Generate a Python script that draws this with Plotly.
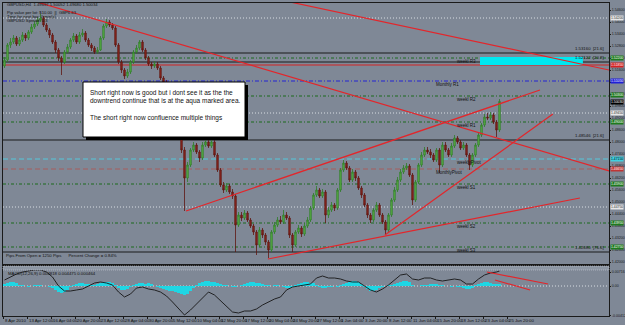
import plotly.graph_objects as go

# ---------------- data ----------------
first_open = 1.5180
close = [1.5210,1.5285,1.5300,1.5320,1.5290,1.5310,1.5335,1.5320,1.5350,1.5375,
         1.5390,1.5410,1.5420,1.5385,1.5360,1.5335,1.5300,1.5260,1.5220,1.5200,
         1.5250,1.5275,1.5310,1.5330,1.5300,1.5335,1.5345,1.5310,1.5285,1.5270,
         1.5250,1.5260,1.5320,1.5380,1.5400,1.5385,1.5370,1.5285,1.5200,1.5160,
         1.5130,1.5150,1.5200,1.5250,1.5270,1.5300,1.5260,1.5220,1.5190,1.5180,
         1.5190,1.5170,1.5120,1.5100,1.5070,1.5035,1.4985,1.4935,1.4860,1.4760,
         1.4620,1.4685,1.4760,1.4785,1.4750,1.4720,1.4785,1.4800,1.4780,1.4800,
         1.4735,1.4660,1.4585,1.4560,1.4580,1.4550,1.4530,1.4385,1.4435,1.4420,
         1.4445,1.4410,1.4380,1.4350,1.4285,1.4360,1.4335,1.4300,1.4260,1.4350,
         1.4385,1.4410,1.4400,1.4435,1.4420,1.4335,1.4285,1.4350,1.4370,1.4340,
         1.4380,1.4410,1.4470,1.4535,1.4560,1.4530,1.4550,1.4435,1.4460,1.4485,
         1.4470,1.4560,1.4660,1.4695,1.4670,1.4610,1.4650,1.4620,1.4570,1.4535,
         1.4485,1.4435,1.4410,1.4460,1.4485,1.4435,1.4400,1.4360,1.4435,1.4510,
         1.4560,1.4610,1.4650,1.4670,1.4680,1.4635,1.4510,1.4600,1.4685,1.4735,
         1.4760,1.4750,1.4735,1.4710,1.4760,1.4685,1.4785,1.4760,1.4735,1.4780,
         1.4820,1.4800,1.4770,1.4785,1.4735,1.4685,1.4735,1.4785,1.4835,1.4885,
         1.4925,1.4920,1.4935,1.4900,1.4860,1.5003]
high = [1.5225,1.5295,1.5320,1.5335,1.5330,1.5325,1.5350,1.5345,1.5360,1.5390,
        1.5405,1.5425,1.5440,1.5430,1.5395,1.5370,1.5345,1.5310,1.5270,1.5230,
        1.5260,1.5290,1.5320,1.5345,1.5340,1.5350,1.5365,1.5355,1.5320,1.5295,
        1.5280,1.5275,1.5330,1.5390,1.5415,1.5410,1.5395,1.5380,1.5295,1.5210,
        1.5170,1.5165,1.5210,1.5260,1.5285,1.5310,1.5310,1.5270,1.5230,1.5200,
        1.5205,1.5200,1.5180,1.5130,1.5110,1.5080,1.5045,1.4995,1.4945,1.4870,
        1.4775,1.4700,1.4770,1.4800,1.4795,1.4760,1.4800,1.4820,1.4815,1.4815,
        1.4810,1.4745,1.4670,1.4600,1.4595,1.4590,1.4565,1.4540,1.4450,1.4450,
        1.4460,1.4455,1.4420,1.4390,1.4360,1.4375,1.4370,1.4345,1.4310,1.4360,
        1.4400,1.4425,1.4430,1.4460,1.4450,1.4430,1.4345,1.4360,1.4385,1.4380,
        1.4395,1.4425,1.4480,1.4545,1.4580,1.4570,1.4565,1.4560,1.4475,1.4500,
        1.4495,1.4570,1.4670,1.4710,1.4705,1.4680,1.4665,1.4660,1.4630,1.4580,
        1.4545,1.4495,1.4445,1.4470,1.4500,1.4495,1.4445,1.4410,1.4445,1.4520,
        1.4575,1.4625,1.4665,1.4685,1.4695,1.4690,1.4645,1.4610,1.4695,1.4750,
        1.4775,1.4775,1.4765,1.4745,1.4770,1.4770,1.4800,1.4800,1.4770,1.4795,
        1.4835,1.4830,1.4810,1.4800,1.4795,1.4745,1.4745,1.4795,1.4845,1.4895,
        1.4940,1.4945,1.4950,1.4945,1.4910,1.5015]
low = [1.5170,1.5200,1.5270,1.5290,1.5280,1.5280,1.5300,1.5305,1.5310,1.5340,
       1.5365,1.5380,1.5400,1.5375,1.5350,1.5320,1.5290,1.5245,1.5205,1.5135,
       1.5190,1.5240,1.5265,1.5300,1.5290,1.5290,1.5325,1.5300,1.5275,1.5255,
       1.5240,1.5240,1.5255,1.5310,1.5370,1.5375,1.5360,1.5275,1.5190,1.5145,
       1.5115,1.5120,1.5140,1.5190,1.5240,1.5260,1.5250,1.5210,1.5180,1.5165,
       1.5170,1.5160,1.5110,1.5090,1.5060,1.5025,1.4975,1.4925,1.4850,1.4745,
       1.4455,1.4600,1.4675,1.4750,1.4740,1.4700,1.4710,1.4775,1.4770,1.4770,
       1.4725,1.4650,1.4575,1.4545,1.4550,1.4540,1.4515,1.4250,1.4375,1.4405,
       1.4410,1.4400,1.4370,1.4335,1.4235,1.4275,1.4320,1.4285,1.4220,1.4250,
       1.4340,1.4375,1.4390,1.4390,1.4410,1.4320,1.4250,1.4275,1.4340,1.4325,
       1.4330,1.4370,1.4400,1.4460,1.4525,1.4520,1.4520,1.4395,1.4420,1.4450,
       1.4455,1.4460,1.4550,1.4650,1.4660,1.4600,1.4600,1.4605,1.4560,1.4520,
       1.4475,1.4420,1.4395,1.4400,1.4450,1.4425,1.4390,1.4335,1.4350,1.4425,
       1.4500,1.4550,1.4600,1.4640,1.4660,1.4625,1.4485,1.4500,1.4590,1.4675,
       1.4725,1.4740,1.4720,1.4700,1.4700,1.4645,1.4675,1.4750,1.4725,1.4725,
       1.4770,1.4790,1.4760,1.4760,1.4725,1.4660,1.4675,1.4725,1.4775,1.4825,
       1.4875,1.4910,1.4910,1.4890,1.4825,1.4850]

osma = [0.0010,0.0015,0.0020,0.0020,0.0015,
        0.0005,0.0005,0.0,-0.0005,0.0,0.0005,0.0005,0.0005,0.0,0.0,-0.0005,
        -0.0010,-0.0020,-0.0030,-0.0035,-0.0030,-0.0020,
        -0.0005,0.0005,0.0010,0.0015,0.0015,0.0010,0.0010,0.0005,0.0005,0.0010,
        0.0015,0.0020,0.0020,0.0020,0.0015,
        0.0005,-0.0010,-0.0020,-0.0020,-0.0015,
        -0.0005,0.0005,0.0010,0.0015,0.0015,
        0.0010,0.0015,0.0010,0.0,-0.0005,
        -0.0010,-0.0015,-0.0020,-0.0025,-0.0025,-0.0030,-0.0035,-0.0040,-0.0045,-0.0040,
        -0.0025,
        -0.0010,0.0005,0.0015,0.0020,0.0025,0.0025,0.0020,0.0020,0.0015,0.0010,0.0005,0.0005,0.0,
        -0.0005,-0.0005,0.0,
        0.0005,0.0010,0.0015,0.0020,0.0020,0.0015,0.0015,0.0010,
        0.0005,0.0005,0.0,0.0005,0.0005,0.0,-0.0005,-0.0010,
        -0.0010,-0.0005,0.0005,0.0010,0.0015,0.0020,0.0020,0.0015,0.0015,
        0.0005,-0.0005,-0.0010,
        -0.0010,-0.0005,-0.0005,0.0,-0.0005,0.0005,0.0010,
        0.0015,0.0020,0.0025,0.0025,0.0020,0.0010,
        -0.0005,-0.0015,-0.0025,-0.0025,-0.0020,
        -0.0010,-0.0005,0.0,0.0005,0.0005,
        0.0010,0.0015,0.0020,0.0025,0.0025,0.0020,
        0.0005,0.0,0.0,0.0005,0.0005,0.0005,
        0.0010,0.0010,0.0010,0.0005,0.0005,
        0.0,0.0,-0.0005,0.0,-0.0005,-0.0005,-0.0010,
        -0.0015,-0.0015,-0.0010,
        0.0005,0.0010,0.0015,0.0020,0.0020,
        0.0015,0.0010,0.0010,0.0010]

macd_line = [0.0030,0.0045,0.0060,0.0070,0.0075,0.0080,0.0080,0.0070,0.0045,0.0,
             -0.0025,-0.0025,-0.0020,-0.0015,0.0,0.0015,0.0020,0.0015,0.0005,-0.0030,
             -0.0055,-0.0040,-0.0010,-0.0005,-0.0015,-0.0020,-0.0030,-0.0050,-0.0080,-0.0115,
             -0.0145,-0.0120,-0.0090,-0.0055,-0.0030,-0.0045,-0.0075,-0.0105,-0.0130,-0.0135,
             -0.0125,-0.0125,-0.0115,-0.0095,-0.0080,-0.0065,-0.0055,-0.0020,-0.0005,0.0,
             0.0005,0.0010,0.0040,0.0050,0.0040,0.0040,0.0035,0.0025,0.0020,0.0020,
             0.0,-0.0020,-0.0030,-0.0015,0.0005,0.0030,0.0055,0.0060,0.0035,0.0030,
             0.0040,0.0040,0.0030,0.0025,0.0030,0.0035,0.0030,0.0010,0.0010,0.0035,
             0.0055,0.0065,0.0070,0.0075]

time_labels = ["8 Apr 2010", "13 Apr 12:00", "16 Apr 04:00", "20 Apr 20:00", "23 Apr 12:00",
               "28 Apr 04:00", "30 Apr 20:00", "5 May 12:00", "10 May 04:00", "12 May 20:00",
               "17 May 12:00", "20 May 04:00", "24 May 20:00", "27 May 12:00", "1 Jun 04:00",
               "3 Jun 20:00", "8 Jun 12:00", "11 Jun 04:00", "15 Jun 20:00", "18 Jun 12:00",
               "23 Jun 04:00", "25 Jun 20:00"]
bars_per_label = 8

# horizontal levels: price, colour, dash, label
levels = [
    (1.5420, "#d9dde3", "1px,2px", ""),
    (1.5245, "#1a1a1a", "solid", ""),
    (1.5220, "#1d6b1d", "3px,2px,1px,2px", "weekl R3"),
    (1.5200, "#1a1a1a", "solid", ""),
    (1.5185, "#d42222", "solid", ""),
    (1.5105, "#2424d4", "4px,2px,1px,2px", "Monthly R1"),
    (1.5030, "#1d6b1d", "3px,2px,1px,2px", "weekl R2"),
    (1.4945, "#d9dde3", "1px,2px", ""),
    (1.4900, "#1d6b1d", "3px,2px,1px,2px", "weekl R1"),
    (1.4810, "#1a1a1a", "solid", ""),
    (1.4715, "#55c8dc", "5px,3px", "weeklyPivot"),
    (1.4665, "#a85c5c", "5px,3px", "MonthlyPivot"),
    (1.4590, "#1d6b1d", "3px,2px,1px,2px", "weekl S1"),
    (1.4475, "#d9dde3", "1px,2px", ""),
    (1.4395, "#1d6b1d", "3px,2px,1px,2px", "weekl S2"),
    (1.4275, "#1d6b1d", "3px,2px,1px,2px", "weekl S3"),
    (1.4250, "#1a1a1a", "solid", ""),
]
line_price_notes = [(1.5245, "1.53160  [21.6]"), (1.5200, "1.52122  [20.8]"),
                    (1.4810, "1.48546  [21.6]"), (1.4250, "1.42680  [76.6]")]
# price, background, text colour, vertical nudge (px)
axis_tags = [(1.5420, "#e6e6e6", "#333", 0), (1.5220, "#1f7a1f", "#fff", 0), (1.5185, "#d42222", "#fff", 0),
             (1.5105, "#2020d8", "#fff", 0), (1.5030, "#1f7a1f", "#fff", 1), (1.5003, "#000000", "#fff", -1),
             (1.4945, "#e6e6e6", "#333", 0), (1.4900, "#1f7a1f", "#fff", 0), (1.4715, "#40d0e0", "#000", 0),
             (1.4665, "#c03535", "#fff", 0), (1.4590, "#1f7a1f", "#fff", 0), (1.4475, "#e6e6e6", "#333", 0),
             (1.4395, "#1f7a1f", "#fff", 0), (1.4275, "#1f7a1f", "#fff", 0)]

# trend lines drawn on the chart: (bar0, price0, bar1, price1)
trendlines = [(10.8, 1.5500, 201.5, 1.4655),
              (95.2, 1.5500, 201.5, 1.5160),
              (60.5, 1.4455, 178.5, 1.5060),
              (126.8, 1.4335, 182.8, 1.4940),
              (87.8, 1.4215, 191.8, 1.4520)]
ind_trendlines = [(160.8, 0.0070, 181.2, 0.0010), (163.5, 0.0030, 175.2, -0.0020)]
aqua_zone = (158.5, 192.8, 1.5185, 1.5225)

# ---------------- figure ----------------
BG = "#7f8896"
FRAME = "#1a1a1a"
FONT = "Liberation Sans"
n = len(close)
idx = list(range(n))
opens = [first_open] + close[:-1]
macd_idx = list(range(0, n - 1, 2)) + [n - 1]

def px(x):   # pixel -> paper x
    return (x - 3) / 606.0

def py(y):   # pixel -> paper y
    return (316 - y) / 313.0

fig = go.Figure()
fig.add_trace(go.Candlestick(
    x=idx, open=opens, high=high, low=low, close=close, xaxis="x", yaxis="y",
    increasing=dict(line=dict(color="#2f7d28", width=0.8), fillcolor="#63b84a"),
    decreasing=dict(line=dict(color="#5e1712", width=0.8), fillcolor="#92281f"),
    whiskerwidth=0, hoverinfo="skip", showlegend=False))
fig.add_trace(go.Bar(x=idx, y=osma, xaxis="x2", yaxis="y2", width=0.95,
                     marker=dict(color="#1fd6e4", line=dict(width=0)), showlegend=False))
fig.add_trace(go.Scatter(x=macd_idx, y=macd_line, xaxis="x2", yaxis="y2", mode="lines",
                         line=dict(color="#161616", width=0.9), showlegend=False))

shapes = []
annotations = []
for price, col, dash, lab in levels:
    shapes.append(dict(type="line", xref="paper", yref="y", x0=0, x1=1, y0=price, y1=price,
                       line=dict(color=col, width=1, dash=dash), layer="below"))
    if lab:
        xi = 143 if lab.startswith("Month") else 150
        annotations.append(dict(x=xi, y=price, xref="x", yref="y", text=lab, showarrow=False,
                                xanchor="left", yanchor="top", yshift=1,
                                font=dict(size=4.5, color="#111", family=FONT)))
for price, txt in line_price_notes:
    annotations.append(dict(x=px(606), y=price, xref="paper", yref="y", text=txt, showarrow=False,
                            xanchor="right", yanchor="bottom", font=dict(size=4.3, color="#111", family=FONT)))

x0, x1, yb, yt = aqua_zone
shapes.append(dict(type="rect", xref="x", yref="y", x0=x0, x1=x1, y0=yb, y1=yt,
                   fillcolor="#00e8f0", line=dict(width=0), layer="below"))
for a, b, c, d in trendlines:
    shapes.append(dict(type="line", xref="x", yref="y", x0=a, y0=b, x1=c, y1=d,
                       line=dict(color="#e3262b", width=1.2)))
for a, b, c, d in ind_trendlines:
    shapes.append(dict(type="line", xref="x2", yref="y2", x0=a, y0=b, x1=c, y1=d,
                       line=dict(color="#e3262b", width=1.2)))
# indicator zero line & header strip
shapes.append(dict(type="line", xref="paper", yref="y2", x0=0, x1=1, y0=0, y1=0,
                   line=dict(color="#d9dde3", width=1, dash="1px,2px"), layer="below"))
shapes.append(dict(type="rect", xref="paper", yref="paper", x0=0, x1=1, y0=py(270), y1=py(266),
                   fillcolor="#8d96a3", line=dict(color="#c9ced6", width=0.6, dash="1px,1px")))

# text box with shadow
shapes.append(dict(type="rect", xref="paper", yref="paper", x0=px(86), x1=px(248),
                   y0=py(140), y1=py(85), fillcolor="#000", line=dict(width=0)))
shapes.append(dict(type="rect", xref="paper", yref="paper", x0=px(83), x1=px(245),
                   y0=py(137), y1=py(82), fillcolor="#ffffff", line=dict(color="#000", width=1)))
annotations.append(dict(x=px(88), y=py(87), xref="paper", yref="paper", xanchor="left", yanchor="top",
                        align="left", showarrow=False,
                        text="Short right now is good but i dont see it as the the<br>"
                             "downtrend continue that is at the aqua marked area.<br><br>"
                             "The short right now confluence multiple things",
                        font=dict(size=6.5, color="#111", family=FONT)))

# info texts
info = [(4, "GBPUSD,H4  1.49697 1.50052 1.49680 1.50034"),
        (12.5, "Pip value per lot: $10.00  ||  GBP6.63"),
        (16.5, "Time for next bar: 0 min(s)"),
        (20.5, "GBPUSD Spread: 0.3")]
for yy, t in info:
    annotations.append(dict(x=px(5), y=py(yy), xref="paper", yref="paper", xanchor="left",
                            yanchor="middle", showarrow=False, text=t,
                            font=dict(size=4.2, color="#111", family=FONT)))
annotations.append(dict(x=px(4), y=py(256), xref="paper", yref="paper", xanchor="left", yanchor="middle",
                        showarrow=False, text="Pips From Open = 1250 Pips      Percent Change = 0.84%",
                        font=dict(size=4.3, color="#111", family=FONT)))
annotations.append(dict(x=px(6), y=py(273.5), xref="paper", yref="paper", xanchor="left", yanchor="middle",
                        showarrow=False, text="MACD(12,26,9) 0.004818 0.004475 0.000464",
                        font=dict(size=4.3, color="#111", family=FONT)))

# price-axis tags
for price, bg, fg, nudge in axis_tags:
    annotations.append(dict(x=1.002, y=price, xref="paper", yref="y", xanchor="left", yanchor="middle",
                            showarrow=False, text=f"{price:.5f}", bgcolor=bg, borderpad=0, yshift=nudge,
                            font=dict(size=3.4, color=fg, family=FONT)))

# time labels
tick_pos = [i * bars_per_label - 0.5 for i in range(len(time_labels))]
for tp, lab in zip(tick_pos, time_labels):
    annotations.append(dict(x=tp, y=py(320.5), xref="x2", yref="paper", xanchor="left", yanchor="middle",
                            showarrow=False, text=lab, font=dict(size=4.3, color="#111", family=FONT)))

axis_common = dict(showgrid=False, zeroline=False, showline=True, mirror=True,
                   linecolor=FRAME, linewidth=1, automargin=False)
fig.update_layout(
    width=625, height=325, margin=dict(l=3, r=16, t=3, b=9),
    paper_bgcolor=BG, plot_bgcolor=BG, showlegend=False,
    font=dict(family=FONT, size=5, color="#111"),
    xaxis=dict(domain=[0, 1], range=[-0.5, 201.5], anchor="y", showticklabels=False,
               rangeslider=dict(visible=False), ticks="", **axis_common),
    xaxis2=dict(domain=[0, 1], range=[-0.5, 201.5], anchor="y2", matches="x", showticklabels=False,
                tickmode="array", tickvals=tick_pos, ticks="outside", ticklen=2, tickcolor=FRAME,
                **axis_common),
    yaxis=dict(domain=[py(264), 1], range=[1.4190, 1.5495], side="right", tickformat=".5f",
               tick0=1.42, dtick=0.006, ticks="outside", ticklen=1, tickcolor=FRAME,
               tickfont=dict(size=3.6, color="#1a1a1a"), **axis_common),
    yaxis2=dict(domain=[0, py(266)], range=[-0.015, 0.010], side="right", tickmode="array",
                tickvals=[0.0070, 0.0, -0.0148], ticktext=["0.00716", "0.00", "-0.00412"],
                ticks="outside", ticklen=1, tickcolor=FRAME,
                tickfont=dict(size=3.6, color="#1a1a1a"), **axis_common),
    shapes=shapes, annotations=annotations, bargap=0,
)
fig.write_html("out.html")
